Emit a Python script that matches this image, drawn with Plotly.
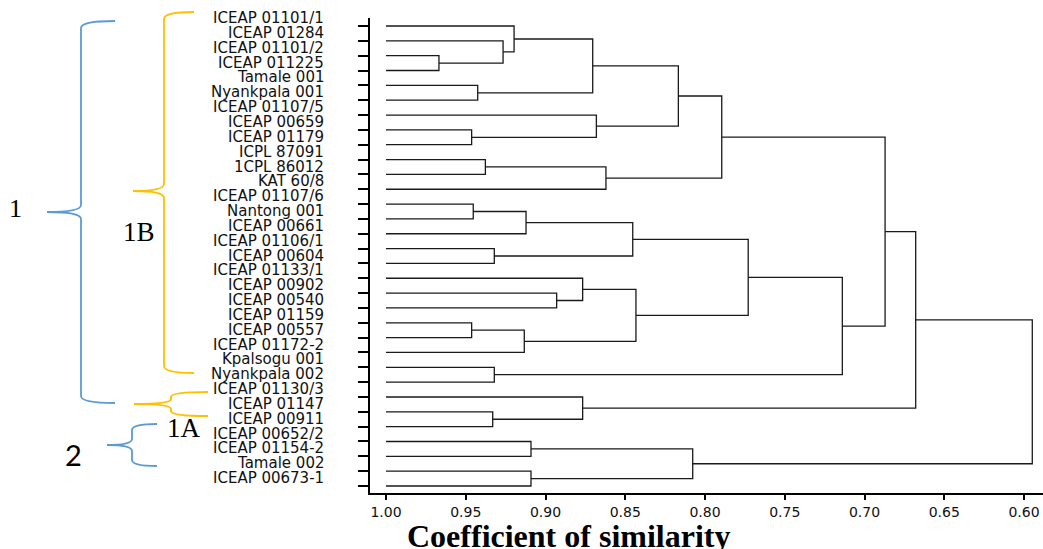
import plotly.graph_objects as go

# ---------------- data ----------------
leaf_labels = [
    "ICEAP 01101/1", "ICEAP 01284", "ICEAP 01101/2", "ICEAP 011225", "Tamale 001",
    "Nyankpala 001", "ICEAP 01107/5", "ICEAP 00659", "ICEAP 01179", "ICPL 87091",
    "1CPL 86012", "KAT 60/8", "ICEAP 01107/6", "Nantong 001", "ICEAP 00661",
    "ICEAP 01106/1", "ICEAP 00604", "ICEAP 01133/1", "ICEAP 00902", "ICEAP 00540",
    "ICEAP 01159", "ICEAP 00557", "ICEAP 01172-2", "Kpalsogu 001", "Nyankpala 002",
    "ICEAP 01130/3", "ICEAP 01147", "ICEAP 00911", "ICEAP 00652/2", "ICEAP 01154-2",
    "Tamale 002", "ICEAP 00673-1",
]
# merges: children (leaf index 0..31, or 32+k for the k-th merge) and similarity
merge_left = [2, 1, 0, 4, 34, 7, 6, 36, 9, 40, 39, 12, 43, 15, 44, 18, 17, 20, 49, 48,
              46, 23, 52, 42, 26, 25, 55, 28, 30, 59, 58]
merge_right = [3, 32, 33, 5, 35, 8, 37, 38, 10, 11, 41, 13, 14, 16, 45, 19, 47, 21, 22, 50,
               51, 24, 53, 54, 27, 56, 57, 29, 31, 60, 61]
merge_height = [0.9668, 0.9266, 0.9197, 0.9425, 0.8704, 0.9463, 0.8681, 0.8167, 0.9377,
                0.8621, 0.7895, 0.9453, 0.9122, 0.9321, 0.8453, 0.8930, 0.8767, 0.9463,
                0.9133, 0.8433, 0.7729, 0.9321, 0.7139, 0.6871, 0.9331, 0.8767, 0.6679,
                0.9091, 0.9091, 0.8077, 0.5948]
x_ticks = [1.00, 0.95, 0.90, 0.85, 0.80, 0.75, 0.70, 0.65, 0.60]
x_tick_text = ["1.00", "0.95", "0.90", "0.85", "0.80", "0.75", "0.70", "0.65", "0.60"]

# ---------------- dendrogram geometry ----------------
n = len(leaf_labels)
pos = {i: float(i) for i in range(n)}
hgt = {i: 1.0 for i in range(n)}
xs, ys = [], []
for k, (a, b, h) in enumerate(zip(merge_left, merge_right, merge_height)):
    ya, yb = pos[a], pos[b]
    xs += [hgt[a], h, h, hgt[b], None]
    ys += [ya, ya, yb, yb, None]
    pos[n + k] = (ya + yb) / 2
    hgt[n + k] = h

fig = go.Figure()
fig.add_trace(go.Scatter(x=xs, y=ys, mode="lines",
                         line=dict(color="#1a1a1a", width=1.3),
                         hoverinfo="skip", showlegend=False))

# ---------------- layout ----------------
W, H = 1043, 549
PL, PT, PB = 370, 18, 493          # plot-area edges in page pixels
L, R, T, B = PL, 0, PT, H - PB
PW, PH = W - L - R, H - T - B


def px(x):
    return (x - PL) / PW


def py(y):
    return (PB - y) / PH


annotations = []
for i, lab in enumerate(leaf_labels):
    annotations.append(dict(x=px(326), xref="paper", y=i - 0.53, yref="y",
                            text=lab, showarrow=False, xanchor="right", yanchor="middle",
                            font=dict(family="DejaVu Sans", size=15, color="#111")))

annotations.append(dict(x=px(568), y=py(536), xref="paper", yref="paper",
                        text="<b>Coefficient of similarity</b>", showarrow=False,
                        xanchor="center", yanchor="middle",
                        font=dict(family="Liberation Serif", size=32, color="#000")))
for txt, cx, cy, fam, sz in [("1", 15, 208, "Liberation Serif", 26),
                             ("1B", 139, 232, "Liberation Serif", 27),
                             ("1A", 184, 428, "Liberation Serif", 27),
                             ("2", 73, 454, "Lato", 29)]:
    annotations.append(dict(x=px(cx), y=py(cy), xref="paper", yref="paper", text=txt,
                            showarrow=False, xanchor="center", yanchor="middle",
                            font=dict(family=fam, size=sz, color="#000")))


def brace(x_end, x_mid, x_tip, y_top, y_tip, y_bot, r=7):
    pts = [
        f"M {px(x_end)},{py(y_top)}",
        f"Q {px(x_mid)},{py(y_top)} {px(x_mid)},{py(y_top + r)}",
        f"L {px(x_mid)},{py(y_tip - r)}",
        f"Q {px(x_mid)},{py(y_tip)} {px(x_tip)},{py(y_tip)}",
        f"Q {px(x_mid)},{py(y_tip)} {px(x_mid)},{py(y_tip + r)}",
        f"L {px(x_mid)},{py(y_bot - r)}",
        f"Q {px(x_mid)},{py(y_bot)} {px(x_end)},{py(y_bot)}",
    ]
    return " ".join(pts)


BLUE, ORANGE = "#5B9BD5", "#FFC000"
shapes = [
    dict(type="path", path=brace(115, 81, 47, 21, 212, 403), xref="paper", yref="paper",
         line=dict(color=BLUE, width=1.8)),
    dict(type="path", path=brace(194, 164, 133, 12, 191, 373), xref="paper", yref="paper",
         line=dict(color=ORANGE, width=1.8)),
    dict(type="path", path=brace(208, 171, 134, 392, 404, 416, r=5), xref="paper", yref="paper",
         line=dict(color=ORANGE, width=2)),
    dict(type="path", path=brace(157, 132, 107, 424, 445, 466, r=6), xref="paper", yref="paper",
         line=dict(color=BLUE, width=1.8)),
]

x_left = 1 + 16 / 1595
x_right = 1 - 657 / 1595
y_top = (PT - 26) / 14.839
y_bot = (PB - 26) / 14.839

fig.update_layout(
    width=W, height=H,
    margin=dict(l=L, r=R, t=T, b=B, pad=0),
    paper_bgcolor="white", plot_bgcolor="white",
    showlegend=False,
    annotations=annotations,
    shapes=shapes,
    xaxis=dict(range=[x_left, x_right], tickvals=x_ticks, ticktext=x_tick_text,
               showgrid=False, zeroline=False, showline=True, linecolor="#000", linewidth=2,
               ticks="outside", ticklen=5, tickwidth=2, tickcolor="#000",
               tickfont=dict(family="DejaVu Sans", size=14, color="#111")),
    yaxis=dict(range=[y_bot, y_top], tickvals=list(range(n)), showticklabels=False,
               showgrid=False, zeroline=False, showline=True, linecolor="#000", linewidth=2,
               ticks="outside", ticklen=10, tickwidth=2, tickcolor="#000"),
)

fig.write_html("out.html",
               config={"displayModeBar": False, "staticPlot": True},
               post_script="document.body.style.margin='0';document.body.style.overflow='hidden';")
